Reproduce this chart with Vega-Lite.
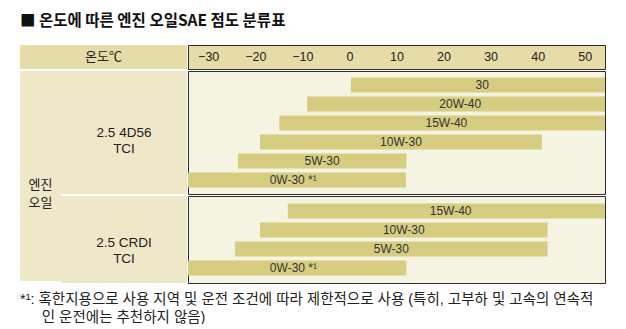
{
  "$schema": "https://vega.github.io/schema/vega-lite/v6.json",
  "padding": {"left": 20, "top": 14, "right": 0, "bottom": 0},
  "background": "white",
  "title": {
    "text": "■ 온도에 따른 엔진 오일SAE 점도 분류표",
    "anchor": "start",
    "fontSize": 15.5,
    "fontWeight": "bold",
    "font": "Noto Sans CJK KR",
    "color": "#111",
    "offset": 15
  },
  "datasets": {
    "grades": [
      {"group": 1, "grade": "30", "low": 0.2, "high": 56},
      {"group": 1, "grade": "20W-40", "low": -9.1, "high": 56},
      {"group": 1, "grade": "15W-40", "low": -15, "high": 56},
      {"group": 1, "grade": "10W-30", "low": -19.1, "high": 40.8},
      {"group": 1, "grade": "5W-30", "low": -23.8, "high": 12},
      {"group": 1, "grade": "0W-30 *¹", "low": -36, "high": 11.9},
      {"group": 2, "grade": "15W-40", "low": -13.2, "high": 56},
      {"group": 2, "grade": "10W-30", "low": -19.1, "high": 42},
      {"group": 2, "grade": "5W-30", "low": -24.4, "high": 42},
      {"group": 2, "grade": "0W-30 *¹", "low": -36, "high": 12}
    ],
    "engines": [
      {"group": 1, "engine": "2.5 4D56\nTCI"},
      {"group": 2, "engine": "2.5 CRDI\nTCI"}
    ],
    "ticks": [
      {"t": -30}, {"t": -20}, {"t": -10}, {"t": 0}, {"t": 10},
      {"t": 20}, {"t": 30}, {"t": 40}, {"t": 50}
    ]
  },
  "spacing": 0,
  "vconcat": [
    {
      "spacing": 0,
      "resolve": {"scale": {"x": "independent", "y": "independent"}},
      "hconcat": [
        {
          "width": 167,
          "height": 24,
          "view": {"fill": "#e6dca7"},
          "data": {"values": [{"label": "온도℃"}]},
          "mark": {"type": "text", "fontSize": 13},
          "encoding": {"text": {"field": "label"}}
        },
        {
          "width": 417,
          "height": 24,
          "view": {"fill": "#e6dca7"},
          "data": {"name": "ticks"},
          "mark": {"type": "text", "fontSize": 12.5},
          "encoding": {
            "x": {"field": "t", "type": "quantitative", "scale": {"domain": [-34.4, 54.2]}, "axis": null},
            "text": {"field": "t", "type": "quantitative"}
          }
        }
      ]
    },
    {
      "spacing": 0,
      "resolve": {"scale": {"x": "independent", "y": "independent"}},
      "title": {
        "text": ["*¹: 혹한지용으로 사용 지역 및 운전 조건에 따라 제한적으로 사용 (특히, 고부하 및 고속의 연속적", "\u200d\u3000\u2002인 운전에는 추천하지 않음)"],
        "orient": "bottom",
        "anchor": "start",
        "fontSize": 14.5,
        "fontWeight": "normal",
        "color": "#222",
        "offset": 9,
        "lineHeight": 18
      },
      "hconcat": [
        {
          "width": 41,
          "height": 210,
          "view": {"fill": "#eee8c8"},
          "data": {"values": [{"label": "엔진\n오일"}]},
          "mark": {"type": "text", "fontSize": 13, "dy": 9, "lineHeight": 18},
          "encoding": {"text": {"field": "label"}}
        },
        {
          "spacing": 0,
          "resolve": {"scale": {"x": "independent", "y": "independent"}},
          "vconcat": [
            {
              "spacing": 0,
              "resolve": {"scale": {"x": "independent", "y": "independent"}},
              "hconcat": [
                {
                  "width": 126,
                  "height": 123,
                  "view": {"fill": "#eee8c8"},
                  "data": {"name": "engines"},
                  "transform": [{"filter": "datum.group == 1"}],
                  "mark": {"type": "text", "fontSize": 13.5, "dy": 0, "lineHeight": 16},
                  "encoding": {"text": {"field": "engine"}}
                },
                {
                  "width": 417,
                  "height": 123,
                  "view": {"fill": "#f5f3e1"},
                  "data": {"name": "grades"},
                  "transform": [{"filter": "datum.group == 1"}],
                  "layer": [
                    {
                      "mark": {"type": "bar", "color": "#d6cd80", "clip": true},
                      "encoding": {
                        "x": {"field": "low", "type": "quantitative", "scale": {"domain": [-34.4, 54.2], "nice": false}, "axis": null},
                        "x2": {"field": "high"},
                        "y": {"field": "grade", "type": "nominal", "sort": null, "scale": {"paddingInner": 0.21, "paddingOuter": 0.34}, "axis": null}
                      }
                    },
                    {
                      "transform": [{"fold": ["low", "high"], "as": ["end", "temp"]}],
                      "mark": {"type": "text", "fontSize": 12, "color": "#333"},
                      "encoding": {
                        "x": {"aggregate": "mean", "field": "temp", "type": "quantitative", "scale": {"domain": [-34.4, 54.2], "nice": false}},
                        "y": {"field": "grade", "type": "nominal", "sort": null},
                        "text": {"field": "grade"}
                      }
                    }
                  ]
                }
              ]
            },
            {
              "spacing": 0,
              "resolve": {"scale": {"x": "independent", "y": "independent"}},
              "hconcat": [
                {
                  "width": 126,
                  "height": 87,
                  "view": {"fill": "#eee8c8"},
                  "data": {"name": "engines"},
                  "transform": [{"filter": "datum.group == 2"}],
                  "mark": {"type": "text", "fontSize": 13.5, "dy": 3.5, "lineHeight": 16},
                  "encoding": {"text": {"field": "engine"}}
                },
                {
                  "width": 417,
                  "height": 87,
                  "view": {"fill": "#f5f3e1"},
                  "data": {"name": "grades"},
                  "transform": [{"filter": "datum.group == 2"}],
                  "layer": [
                    {
                      "mark": {"type": "bar", "color": "#d6cd80", "clip": true},
                      "encoding": {
                        "x": {"field": "low", "type": "quantitative", "scale": {"domain": [-34.4, 54.2], "nice": false}, "axis": null},
                        "x2": {"field": "high"},
                        "y": {"field": "grade", "type": "nominal", "sort": null, "scale": {"paddingInner": 0.21, "paddingOuter": 0.4}, "axis": null}
                      }
                    },
                    {
                      "transform": [{"fold": ["low", "high"], "as": ["end", "temp"]}],
                      "mark": {"type": "text", "fontSize": 12, "color": "#333"},
                      "encoding": {
                        "x": {"aggregate": "mean", "field": "temp", "type": "quantitative", "scale": {"domain": [-34.4, 54.2], "nice": false}},
                        "y": {"field": "grade", "type": "nominal", "sort": null},
                        "text": {"field": "grade"}
                      }
                    }
                  ]
                }
              ]
            }
          ]
        }
      ]
    }
  ],
  "config": {
    "view": {"stroke": "#2b2b2b", "strokeWidth": 1},
    "font": "Liberation Sans, Noto Sans CJK KR",
    "text": {"font": "Liberation Sans, Noto Sans CJK KR", "color": "#222", "lineBreak": "\n", "baseline": "middle"},
    "title": {"font": "Liberation Sans, Noto Sans CJK KR"}
  }
}
